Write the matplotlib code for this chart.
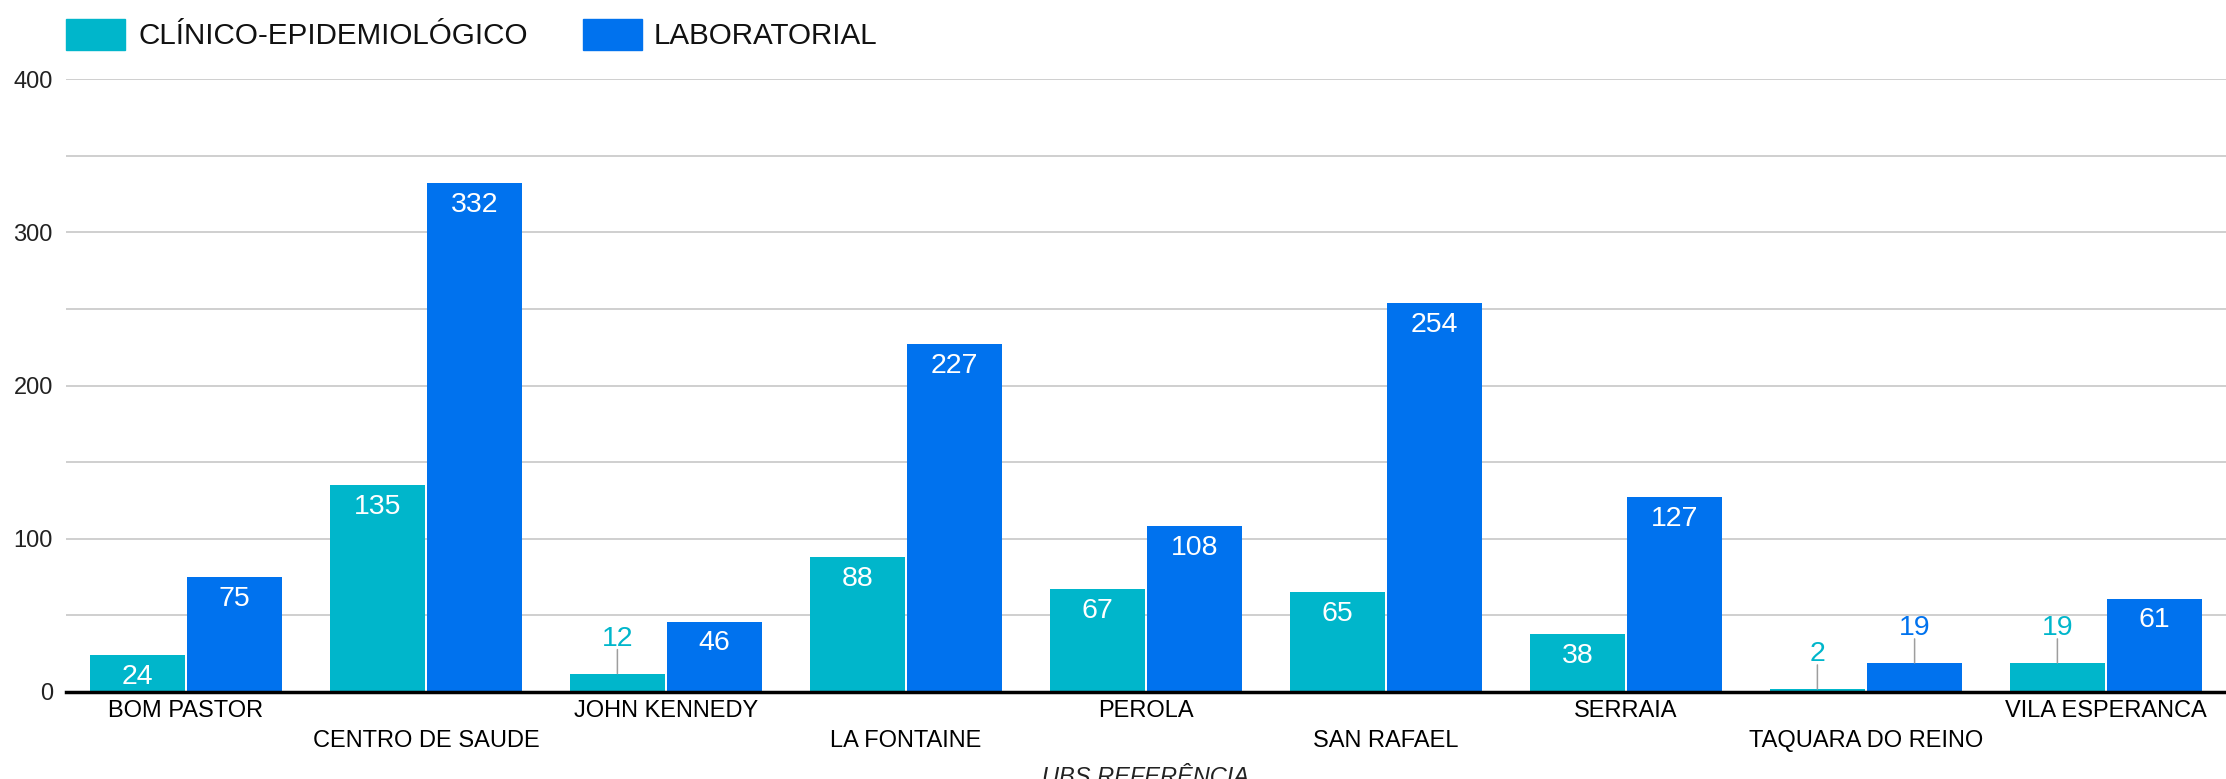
import numpy as np
import matplotlib
matplotlib.use("Agg")
import matplotlib.pyplot as plt
from matplotlib.patches import Rectangle

plt.rcParams['font.family'] = ['Liberation Sans', 'DejaVu Sans']

# Dados
ubs = ["BOM PASTOR", "CENTRO DE SAUDE", "JOHN KENNEDY", "LA FONTAINE", "PEROLA",
       "SAN RAFAEL", "SERRAIA", "TAQUARA DO REINO", "VILA ESPERANCA"]
clinico = [24, 135, 12, 88, 67, 65, 38, 2, 19]
laboratorial = [75, 332, 46, 227, 108, 254, 127, 19, 61]
series_names = ["CLÍNICO-EPIDEMIOLÓGICO", "LABORATORIAL"]

cor_clin = "#00B6CB"
cor_lab = "#0072EE"

W, H = 2226, 779
fig = plt.figure(figsize=(W / 100, H / 100), dpi=100)
ax = fig.add_axes([66 / W, (H - 692) / H, (W - 66) / W, (692 - 79) / H])

x = np.arange(len(ubs))
larg = 0.395
desl = 0.2025
b1 = ax.bar(x - desl, clinico, larg, color=cor_clin, zorder=3)
b2 = ax.bar(x + desl, laboratorial, larg, color=cor_lab, zorder=3)

ax.set_xlim(-0.5, len(ubs) - 0.5)
ax.set_ylim(0, 400)
ax.set_yticks(np.arange(0, 401, 100))
ax.set_yticks(np.arange(50, 400, 100), minor=True)
ax.yaxis.grid(True, which='both', color="#cccccc", lw=1.3, zorder=0)
ax.tick_params(axis='y', which='both', length=0, labelsize=17, pad=9.5, labelcolor="#222222")

# rótulos do eixo x em duas linhas alternadas
ax.set_xticks(x[::2], [ubs[i] for i in x[::2]])
ax.set_xticks(x[1::2], [ubs[i] for i in x[1::2]], minor=True)
ax.tick_params(axis='x', which='major', length=0, labelsize=17, pad=5.5)
ax.tick_params(axis='x', which='minor', length=0, labelsize=17, pad=27.5)

for s in ['top', 'right', 'left']:
    ax.spines[s].set_visible(False)
ax.spines['bottom'].set_linewidth(2.5)
ax.spines['bottom'].set_color("black")
ax.spines['bottom'].set_zorder(4)

# rótulos de valor
for barras, cor in [(b1, cor_clin), (b2, cor_lab)]:
    for b in barras:
        v = b.get_height()
        cx = b.get_x() + b.get_width() / 2
        if v >= 20:
            ax.annotate(str(int(v)), (cx, v), xytext=(0, -20.8), textcoords='offset points',
                        ha='center', va='baseline', color='white', fontsize=20.5, zorder=5)
        else:
            ax.annotate("", (cx, v), xytext=(0, 17.3), textcoords='offset points',
                        arrowprops=dict(arrowstyle='-', color="#9e9e9e", lw=1.1,
                                        shrinkA=0, shrinkB=0), zorder=5)
            ax.annotate(str(int(v)), (cx, v), xytext=(0, 20.2), textcoords='offset points',
                        ha='center', va='baseline', color=cor, fontsize=20.5, zorder=5)

# legenda (desenhada à mão, em pixels)
for (px, tx), cor, nome in zip([(66, 138), (583, 654)], [cor_clin, cor_lab], series_names):
    fig.patches.append(Rectangle((px / W, (H - 50) / H), 59 / W, 31 / H,
                                 transform=fig.transFigure, color=cor, figure=fig))
    fig.text(tx / W, (H - 44) / H, nome, ha='left', va='baseline', fontsize=21.3, color="#111111")

# título do eixo x (cortado na borda inferior)
fig.text((66 + W) / 2 / W, -5 / H, "UBS REFERÊNCIA", ha='center', va='baseline',
         fontsize=17, style='italic', color="#222222")

fig.savefig("out.png", dpi=100)
